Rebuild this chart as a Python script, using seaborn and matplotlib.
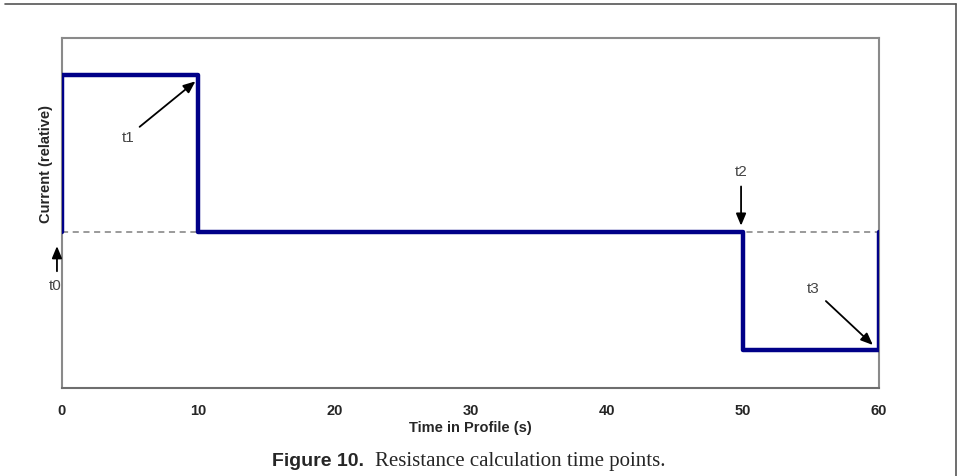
import matplotlib
matplotlib.use("Agg")
import matplotlib.pyplot as plt
import seaborn as sns
import pandas as pd
from matplotlib.lines import Line2D

# Data
time_points = [0, 0, 10, 10, 50, 50, 60, 60]
current_values = [0, 1, 1, 0, 0, -0.75, -0.75, 0]
baseline_x = [0, 60]
baseline_y = [0, 0]
x_ticks = [0, 10, 20, 30, 40, 50, 60]
annot_labels = ["t0", "t1", "t2", "t3"]
annot_text_xy = [(-0.5, -0.34), (4.85, 0.605), (49.87, 0.39), (55.15, -0.36)]
annot_arrow_from = [(-0.37, -0.25), (5.7, 0.67), (49.87, 0.29), (56.1, -0.44)]
annot_arrow_to = [(-0.37, -0.09), (9.8, 0.96), (49.87, 0.04), (59.55, -0.72)]

sns.set_theme(style="white")
plt.rcParams['font.family'] = ['Liberation Sans', 'DejaVu Sans']

fig = plt.figure(figsize=(9.58, 4.77), dpi=100)
ax = fig.add_axes([62/958, 1-389/477, (879-62)/958, (389-39)/477])

df = pd.DataFrame({"t": time_points, "c": current_values})
ax.plot(baseline_x, baseline_y, ls=(0, (4, 3)), color="#7f7f7f", lw=1.1, zorder=1)
sns.lineplot(data=df, x="t", y="c", sort=False, estimator=None, ax=ax,
             color="#000088", lw=3.2, zorder=3)

ax.set_xlim(0, 60)
ax.set_ylim(-0.994, 1.236)
ax.set_xticks(x_ticks)
ax.set_xticklabels([str(v) for v in x_ticks], fontweight="bold", fontsize=10.5)
ax.set_yticks([])
ax.tick_params(axis="x", length=0, pad=11)
ax.set_xlabel("Time in Profile (s)", fontweight="bold", fontsize=10.5, labelpad=2)
ax.set_ylabel("Current (relative)", fontweight="bold", fontsize=10.5)
ax.yaxis.set_label_coords(-0.011, 0.643)

for s in ax.spines.values():
    s.set_color("#8a8a8a")
    s.set_linewidth(1.5)
ax.spines["bottom"].set_color("#6e6e6e")

for lab, txy, a0, a1 in zip(annot_labels, annot_text_xy, annot_arrow_from, annot_arrow_to):
    ax.text(txy[0], txy[1], lab, fontsize=11, color="#444444", ha="center", va="center")
    ax.annotate("", xy=a1, xytext=a0,
                arrowprops=dict(arrowstyle="-|>,head_length=0.6,head_width=0.25",
                                color="black", lw=1.3, shrinkA=0, shrinkB=0),
                annotation_clip=False)

# outer frame lines
fig.add_artist(Line2D([5/958, 956/958], [1-5/477, 1-5/477], color="#555555", lw=1.2))
fig.add_artist(Line2D([956/958, 956/958], [1-5/477, 0], color="#555555", lw=1.2))

# caption
fig.text(272/958, 1-462/477, "Figure 10.", fontsize=14, fontweight="bold",
         ha="left", va="center", family=["Liberation Sans", "DejaVu Sans"])
fig.text(375/958, 1-462/477, "Resistance calculation time points.", fontsize=15,
         ha="left", va="center", family=["Liberation Serif", "DejaVu Serif"])

fig.savefig("out.png", dpi=100)
